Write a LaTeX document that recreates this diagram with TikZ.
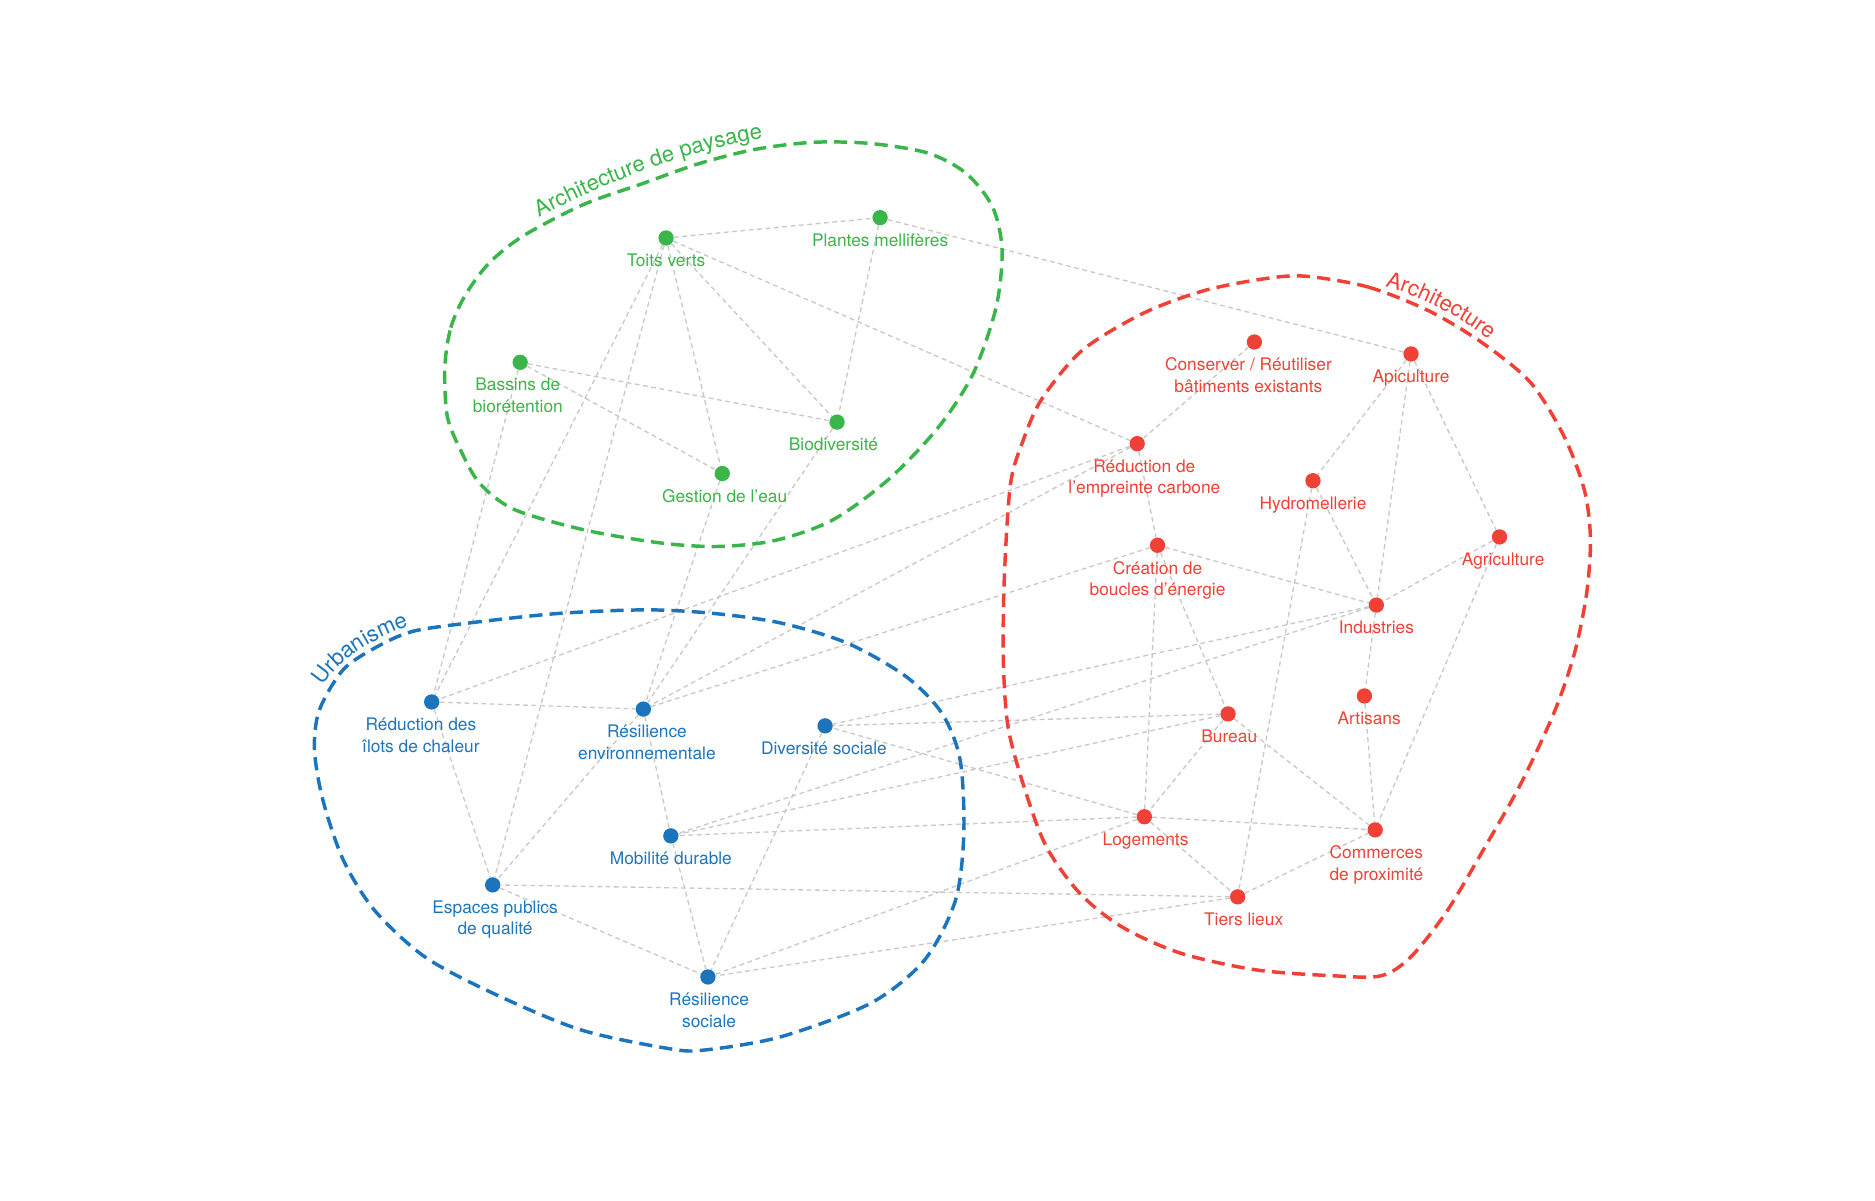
\documentclass[tikz,border=0pt]{standalone}
\usepackage{fontspec}
\setmainfont{TeX Gyre Heros}
\usetikzlibrary{backgrounds, decorations.text}

\definecolor{vert}{RGB}{57,181,74}
\definecolor{rouge}{RGB}{239,65,54}
\definecolor{bleu}{RGB}{28,117,188}
\definecolor{gris}{RGB}{200,200,200}

\begin{document}
\begin{tikzpicture}[x=1pt, y=-1pt, font=\fontsize{14.5}{18}\selectfont]
	\def\rayon{6.4pt}
	\def\titre{\fontsize{18.5}{18.5}\selectfont}
		\tikzset	{
		puce/.style={circle, fill=#1, inner sep=0pt, minimum size=2*\rayon, label distance=0pt},
		lbl/.style={text=#1, align=center, inner sep=1.5pt, yshift=-5pt},
		lien/.style={draw=gris, line width=1.1pt, dash pattern=on 4pt off 3pt},
		zone/.style={draw=#1, line width=2.9pt, dash pattern=on 11pt off 6pt},
		nom/.style={decorate, decoration={text along path, text align=center, text color=#1}},
	}

	\useasboundingbox (0,0) rectangle (1568,1004);

	% architecture de paysage
	\node[puce=vert, label={[lbl=vert]below:Toits verts}] (toits) at (557,199) {};
	\node[puce=vert, label={[lbl=vert]below:Plantes mellifères}] (plantes) at (736,182) {};
	\node[puce=vert, label={[lbl=vert, xshift=-2pt]below:Bassins de\\biorétention}] (bassins) at (435,303) {};
	\node[puce=vert, label={[lbl=vert, xshift=-3pt]below:Biodiversité}] (biodiv) at (700,353) {};
	\node[puce=vert, label={[lbl=vert, xshift=2pt]below:Gestion de l’eau}] (eau) at (604,396) {};

	% architecture
	\node[puce=rouge, label={[lbl=rouge, xshift=-5pt]below:Conserver / Réutiliser\\bâtiments existants}] (conserver) at (1049,286) {};
	\node[puce=rouge, label={[lbl=rouge]below:Apiculture}] (apiculture) at (1180,296) {};
	\node[puce=rouge, label={[lbl=rouge, xshift=6pt]below:Réduction de\\l’empreinte carbone}] (carbone) at (951,371) {};
	\node[puce=rouge, label={[lbl=rouge]below:Hydromellerie}] (hydro) at (1098,402) {};
	\node[puce=rouge, label={[lbl=rouge]below:Création de\\boucles d’énergie}] (boucles) at (968,456) {};
	\node[puce=rouge, label={[lbl=rouge, xshift=3pt]below:Agriculture}] (agriculture) at (1254,449) {};
	\node[puce=rouge, label={[lbl=rouge]below:Industries}] (industries) at (1151,506) {};
	\node[puce=rouge, label={[lbl=rouge, xshift=4pt]below:Artisans}] (artisans) at (1141,582) {};
	\node[puce=rouge, label={[lbl=rouge, xshift=1pt]below:Bureau}] (bureau) at (1027,597) {};
	\node[puce=rouge, label={[lbl=rouge, xshift=1pt]below:Logements}] (logements) at (957,683) {};
	\node[puce=rouge, label={[lbl=rouge, xshift=1pt]below:Commerces\\de proximité}] (commerces) at (1150,694) {};
	\node[puce=rouge, label={[lbl=rouge, xshift=5pt]below:Tiers lieux}] (tiers) at (1035,750) {};

	% urbanisme
	\node[puce=bleu, label={[lbl=bleu, xshift=-9pt]below:Réduction des\\îlots de chaleur}] (ilots) at (361,587) {};
	\node[puce=bleu, label={[lbl=bleu, xshift=3pt]below:Résilience\\environnementale}] (resenv) at (538,593) {};
	\node[puce=bleu, label={[lbl=bleu, xshift=-1pt]below:Diversité sociale}] (diversite) at (690,607) {};
	\node[puce=bleu, label={[lbl=bleu]below:Mobilité durable}] (mobilite) at (561,699) {};
	\node[puce=bleu, label={[lbl=bleu, xshift=2pt]below:Espaces publics\\de qualité}] (espaces) at (412,740) {};
	\node[puce=bleu, label={[lbl=bleu, xshift=1pt]below:Résilience\\sociale}] (ressoc) at (592,817) {};

	\begin{scope}[on background layer]
		\draw[lien] (toits) -- (plantes);
		\draw[lien] (toits) -- (biodiv);
		\draw[lien] (toits) -- (eau);
		\draw[lien] (toits) -- (carbone);
		\draw[lien] (toits) -- (ilots);
		\draw[lien] (toits) -- (espaces);
		\draw[lien] (plantes) -- (biodiv);
		\draw[lien] (plantes) -- (apiculture);
		\draw[lien] (bassins) -- (biodiv);
		\draw[lien] (bassins) -- (eau);
		\draw[lien] (bassins) -- (ilots);
		\draw[lien] (eau) -- (resenv);
		\draw[lien] (biodiv) -- (resenv);
		\draw[lien] (conserver) -- (carbone);
		\draw[lien] (carbone) -- (boucles);
		\draw[lien] (carbone) -- (ilots);
		\draw[lien] (carbone) -- (resenv);
		\draw[lien] (boucles) -- (resenv);
		\draw[lien] (boucles) -- (industries);
		\draw[lien] (boucles) -- (bureau);
		\draw[lien] (boucles) -- (logements);
		\draw[lien] (apiculture) -- (hydro);
		\draw[lien] (apiculture) -- (industries);
		\draw[lien] (apiculture) -- (agriculture);
		\draw[lien] (hydro) -- (industries);
		\draw[lien] (hydro) -- (tiers);
		\draw[lien] (agriculture) -- (industries);
		\draw[lien] (agriculture) -- (commerces);
		\draw[lien] (industries) -- (artisans);
		\draw[lien] (artisans) -- (commerces);
		\draw[lien] (industries) -- (diversite);
		\draw[lien] (industries) -- (mobilite);
		\draw[lien] (bureau) -- (diversite);
		\draw[lien] (bureau) -- (mobilite);
		\draw[lien] (bureau) -- (logements);
		\draw[lien] (bureau) -- (commerces);
		\draw[lien] (logements) -- (commerces);
		\draw[lien] (logements) -- (tiers);
		\draw[lien] (logements) -- (diversite);
		\draw[lien] (logements) -- (mobilite);
		\draw[lien] (logements) -- (ressoc);
		\draw[lien] (tiers) -- (commerces);
		\draw[lien] (tiers) -- (espaces);
		\draw[lien] (tiers) -- (ressoc);
		\draw[lien] (ilots) -- (resenv);
		\draw[lien] (ilots) -- (espaces);
		\draw[lien] (resenv) -- (mobilite);
		\draw[lien] (resenv) -- (espaces);
		\draw[lien] (mobilite) -- (ressoc);
		\draw[lien] (diversite) -- (ressoc);
		\draw[lien] (espaces) -- (ressoc);

		\draw[zone=vert] plot[smooth cycle] coordinates {(372,307) (377,274) (389,247) (409,220) (438,197) (488,171) (536,154) (584,137) (631,125) (680,119) (728,120) (776,128) (808,145) (830,173) (838,209) (833,257) (814,312) (785,357) (743,401) (696,435) (648,452) (600,457) (552,454) (488,443) (430,426) (401,404) (385,376) (374,348)};
		\draw[zone=rouge] plot[smooth cycle] coordinates {(1092,231) (1144,240) (1195,260) (1240,287) (1280,320) (1308,365) (1325,410) (1330,450) (1327,495) (1317,545) (1300,595) (1272,655) (1242,708) (1210,762) (1180,800) (1155,816) (1115,816) (1050,811) (987,797) (938,775) (903,747) (875,708) (857,660) (843,608) (839,550) (840,480) (845,405) (855,370) (871,334) (905,293) (956,262) (1007,243) (1058,233)};
		\draw[zone=bleu] plot[smooth cycle] coordinates {(345,528) (392,521) (467,513) (541,510) (597,513) (653,521) (709,538) (758,566) (788,597) (803,636) (806,697) (799,753) (773,803) (728,839) (653,867) (590,878) (560,877) (485,861) (411,830) (355,800) (313,761) (287,719) (270,669) (263,627) (267,594) (287,560) (315,541)};
	\end{scope}

	\path[nom=vert, decoration={text={|\titre|Architecture de paysage}}] (447,184) .. controls (500,156) and (570,126) .. (642,115);
	\path[nom=rouge, decoration={text={|\titre|Architecture}}] (1148,237) .. controls (1183,245) and (1220,263) .. (1254,291);
	\path[nom=bleu, decoration={text={|\titre|Urbanisme}}] (264,584) .. controls (278,554) and (308,534) .. (353,520);
\end{tikzpicture}
\end{document}
